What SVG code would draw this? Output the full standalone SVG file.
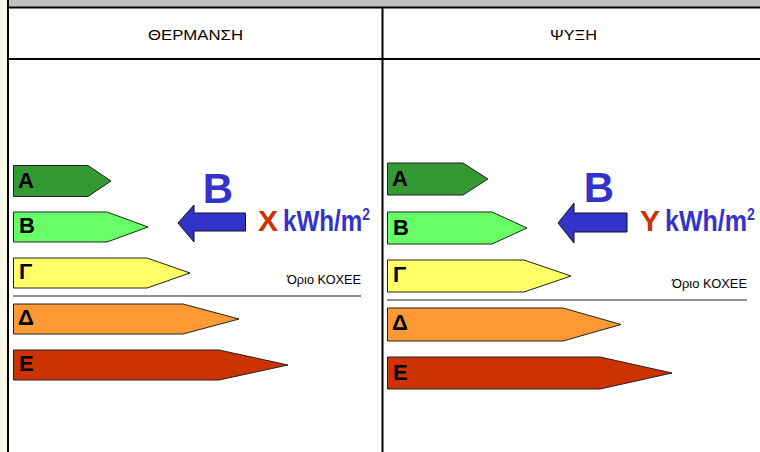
<svg xmlns="http://www.w3.org/2000/svg" width="760" height="452" viewBox="0 0 760 452">
<style>
.bar{stroke:#222;stroke-width:1}
.lbl{font-family:"Liberation Sans",Arial,sans-serif;font-weight:bold;font-size:22px;fill:#000}
.hdr{font-family:"Liberation Sans",Arial,sans-serif;font-size:15px;fill:#000}
.big{font-family:"Liberation Sans",Arial,sans-serif;font-weight:bold;font-size:42px;fill:#3333cc}
.val{font-family:"Liberation Sans",Arial,sans-serif;font-weight:bold;font-size:30px}
.sup{font-size:17px}
.lim{font-family:"Liberation Sans",Arial,sans-serif;font-size:12px;fill:#000}
.frame{stroke:#000;fill:none}
.arrow{fill:#3333cc;stroke:#111;stroke-width:1}
</style>
<rect width="760" height="452" fill="#ffffff"/>
<rect x="0" y="0" width="8" height="452" fill="#faf8e6"/>
<rect x="8" y="0" width="752" height="7" fill="#c0c0c0"/>
<g id="frame">
<line class="frame" x1="8" y1="0" x2="8" y2="452" stroke-width="2"/>
<line class="frame" x1="8" y1="7.5" x2="760" y2="7.5" stroke-width="2"/>
<line class="frame" x1="8" y1="59" x2="760" y2="59" stroke-width="2"/>
<line class="frame" x1="382.5" y1="7" x2="382.5" y2="452" stroke-width="2"/>
</g>
<g id="headers">
<text class="hdr" x="148" y="40" textLength="95" lengthAdjust="spacingAndGlyphs">ΘΕΡΜΑΝΣΗ</text>
<text class="hdr" x="550" y="40" textLength="47" lengthAdjust="spacingAndGlyphs">ΨΥΞΗ</text>
</g>
<g id="heating">
<g id="h-A"><polygon class="bar" fill="#339933" points="13.5,165.5 88,165.5 111,181 88,196.5 13.5,196.5"/><text class="lbl" x="18" y="188">A</text></g>
<g id="h-B"><polygon class="bar" fill="#66ff66" points="13.5,212 107,212 148,227 107,242 13.5,242"/><text class="lbl" x="19" y="233">B</text></g>
<g id="h-G"><polygon class="bar" fill="#ffff66" points="13.5,258 147,258 190,273 147,288 13.5,288"/><text class="lbl" x="19" y="279">Γ</text></g>
<line x1="13" y1="296" x2="361" y2="296" stroke="#222" stroke-width="1"/>
<text class="lim" x="287" y="284" textLength="74" lengthAdjust="spacingAndGlyphs">Όριο ΚΟΧΕΕ</text>
<g id="h-D"><polygon class="bar" fill="#ff9933" points="13.5,304 183,304 239,319 183,334 13.5,334"/><text class="lbl" x="18" y="325">Δ</text></g>
<g id="h-E"><polygon class="bar" fill="#cc3300" points="13.5,350 219,350 288,365 219,380 13.5,380"/><text class="lbl" x="19" y="371">E</text></g>
<g id="h-pointer">
<polygon class="arrow" points="178,223 194,205 194,213 245.5,213 245.5,231 194,231 194,242"/>
<text class="big" x="218" y="203" text-anchor="middle">B</text>
<text class="val" x="258" y="231" fill="#cc3300">X</text>
<text class="val" x="283" y="231" fill="#3333cc" textLength="87" lengthAdjust="spacingAndGlyphs">kWh/m<tspan class="sup" dy="-11">2</tspan></text>
</g>
</g>
<g id="cooling">
<g id="c-A"><polygon class="bar" fill="#339933" points="387.5,163 463,163 488,179 463,195 387.5,195"/><text class="lbl" x="392" y="186">A</text></g>
<g id="c-B"><polygon class="bar" fill="#66ff66" points="387.5,212 492,212 527,228 492,244 387.5,244"/><text class="lbl" x="393" y="235">B</text></g>
<g id="c-G"><polygon class="bar" fill="#ffff66" points="387.5,260 524,260 571,276 524,292 387.5,292"/><text class="lbl" x="393" y="282">Γ</text></g>
<line x1="387" y1="300" x2="747" y2="300" stroke="#222" stroke-width="1"/>
<text class="lim" x="672" y="288" textLength="75" lengthAdjust="spacingAndGlyphs">Όριο ΚΟΧΕΕ</text>
<g id="c-D"><polygon class="bar" fill="#ff9933" points="387.5,308 563,308 621,324.5 563,341 387.5,341"/><text class="lbl" x="392" y="330">Δ</text></g>
<g id="c-E"><polygon class="bar" fill="#cc3300" points="387.5,357 600,357 672,373 600,389 387.5,389"/><text class="lbl" x="393" y="380">E</text></g>
<g id="c-pointer">
<polygon class="arrow" points="558,223 574,203 574,213 627,213 627,232 574,232 574,243"/>
<text class="big" x="599" y="202" text-anchor="middle">B</text>
<text class="val" x="640" y="231" fill="#cc3300">Y</text>
<text class="val" x="665" y="231" fill="#3333cc" textLength="90" lengthAdjust="spacingAndGlyphs">kWh/m<tspan class="sup" dy="-11">2</tspan></text>
</g>
</g>
</svg>
